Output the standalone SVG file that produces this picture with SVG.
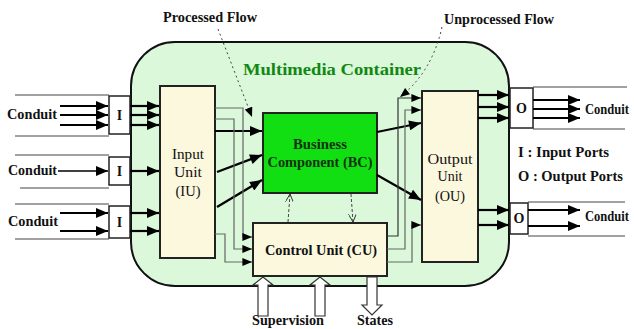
<svg xmlns="http://www.w3.org/2000/svg" width="634" height="329" viewBox="0 0 634 329">
<defs>
<marker id="a" viewBox="0 0 12 10" refX="12" refY="5" markerWidth="13" markerHeight="10" markerUnits="userSpaceOnUse" orient="auto"><path d="M0,0 L12,5 L0,10 z" fill="#000"/></marker>
<marker id="s" viewBox="0 0 12 10" refX="12" refY="5" markerWidth="10" markerHeight="8" markerUnits="userSpaceOnUse" orient="auto"><path d="M0,0 L12,5 L0,10 z" fill="#000"/></marker>
<marker id="o" viewBox="0 0 10 10" refX="10" refY="5" markerWidth="8" markerHeight="8" markerUnits="userSpaceOnUse" orient="auto"><path d="M0,0 L10,5 L0,10" fill="none" stroke="#333" stroke-width="1.2"/></marker>
</defs>
<style>
text{font-family:"Liberation Serif","Times New Roman",serif;fill:#111}
.b{font-weight:bold}
.box{stroke:#222;stroke-width:2}
.cream{fill:#fbf8de}
.port{fill:#fff;stroke:#222;stroke-width:1.5}
.thick{stroke:#000;stroke-width:2.2;fill:none}
.thin{stroke:#666;stroke-width:1.2;fill:none}
.edge{stroke:#444;stroke-width:1;fill:none}
.blk{fill:#fff;stroke:#333;stroke-width:1.2}
</style>
<rect width="634" height="329" fill="#fff"/>

<g id="container">
<rect x="131" y="42" width="378" height="244" rx="44" ry="44" fill="#dbf8da" stroke="#111" stroke-width="2"/>
<text x="243" y="75" class="b" font-size="17" style="fill:#118811" textLength="178" lengthAdjust="spacingAndGlyphs">Multimedia Container</text>
</g>

<g id="labels">
<text x="163" y="22" class="b" font-size="14" textLength="94" lengthAdjust="spacingAndGlyphs">Processed Flow</text>
<text x="444" y="24" class="b" font-size="14" textLength="110" lengthAdjust="spacingAndGlyphs">Unprocessed Flow</text>
<text x="518" y="157" class="b" font-size="14" textLength="91" lengthAdjust="spacingAndGlyphs">I : Input Ports</text>
<text x="518" y="181" class="b" font-size="14" textLength="105" lengthAdjust="spacingAndGlyphs">O : Output Ports</text>
<text x="252" y="325" class="b" font-size="14" textLength="72" lengthAdjust="spacingAndGlyphs">Supervision</text>
<text x="357" y="325" class="b" font-size="14" textLength="36" lengthAdjust="spacingAndGlyphs">States</text>
</g>

<g id="conduit-in">
<path class="edge" d="M15,95 H109 M15,136 H109 M15,155 H109 M20,188 H109 M15,204 H109 M15,239 H109"/>
<text x="7" y="119" class="b" font-size="15" textLength="50" lengthAdjust="spacingAndGlyphs">Conduit</text>
<text x="8" y="175" class="b" font-size="15" textLength="49" lengthAdjust="spacingAndGlyphs">Conduit</text>
<text x="8" y="226" class="b" font-size="15" textLength="50" lengthAdjust="spacingAndGlyphs">Conduit</text>
</g>
<g id="conduit-out">
<path class="edge" d="M533,87 H627 M533,129 H625 M528,202 H625 M528,236 H625"/>
<text x="585" y="114" class="b" font-size="14" textLength="44" lengthAdjust="spacingAndGlyphs">Conduit</text>
<text x="585" y="221" class="b" font-size="14" textLength="44" lengthAdjust="spacingAndGlyphs">Conduit</text>
</g>

<g id="port-i1"><rect class="port" x="109" y="96" width="21" height="38"/><text x="119.5" y="120" class="b" font-size="14" text-anchor="middle">I</text></g>
<g id="port-i2"><rect class="port" x="109" y="157" width="21" height="28"/><text x="119.5" y="176" class="b" font-size="14" text-anchor="middle">I</text></g>
<g id="port-i3"><rect class="port" x="109" y="206" width="21" height="32"/><text x="119.5" y="227" class="b" font-size="14" text-anchor="middle">I</text></g>
<g id="port-o1"><rect class="port" x="510" y="88" width="23" height="40"/><text x="521.5" y="113" class="b" font-size="14" text-anchor="middle">O</text></g>
<g id="port-o2"><rect class="port" x="510" y="203" width="18" height="31"/><text x="519" y="223" class="b" font-size="14" text-anchor="middle">O</text></g>

<g id="input-unit">
<rect class="box cream" x="160" y="86" width="55" height="172"/>
<text x="188" y="159" font-size="15" text-anchor="middle" textLength="32" lengthAdjust="spacingAndGlyphs">Input</text>
<text x="188" y="177" font-size="15" text-anchor="middle" textLength="28" lengthAdjust="spacingAndGlyphs">Unit</text>
<text x="188" y="196" font-size="15" text-anchor="middle" textLength="25" lengthAdjust="spacingAndGlyphs">(IU)</text>
</g>

<g id="business-component">
<rect class="box" x="263" y="113" width="114" height="80" fill="#12df12"/>
<text x="320" y="149" class="b" font-size="15" text-anchor="middle" textLength="54" lengthAdjust="spacingAndGlyphs" style="fill:#113311">Business</text>
<text x="320" y="167" class="b" font-size="15" text-anchor="middle" textLength="105" lengthAdjust="spacingAndGlyphs" style="fill:#113311">Component (BC)</text>
</g>

<g id="control-unit">
<rect class="box cream" x="253" y="223" width="134" height="53"/>
<text x="321" y="255" class="b" font-size="15" text-anchor="middle" textLength="112" lengthAdjust="spacingAndGlyphs">Control Unit (CU)</text>
</g>

<g id="output-unit">
<rect class="box cream" x="422" y="91" width="56" height="171"/>
<text x="450" y="164" font-size="15" text-anchor="middle" textLength="45" lengthAdjust="spacingAndGlyphs">Output</text>
<text x="450" y="181" font-size="15" text-anchor="middle" textLength="25" lengthAdjust="spacingAndGlyphs">Unit</text>
<text x="450" y="201" font-size="15" text-anchor="middle" textLength="30" lengthAdjust="spacingAndGlyphs">(OU)</text>
</g>

<g id="connectors">
<path class="thick" marker-end="url(#a)" d="M60,106 H108"/>
<path class="thick" marker-end="url(#a)" d="M60,115 H108"/>
<path class="thick" marker-end="url(#a)" d="M60,125 H108"/>
<path class="edge" style="stroke:#000;stroke-width:1.4" marker-end="url(#a)" d="M58,171 H108"/>
<path class="thick" marker-end="url(#a)" d="M60,213 H108"/>
<path class="thick" marker-end="url(#a)" d="M60,231 H108"/>
<path class="thick" marker-end="url(#a)" d="M130,106 H159"/>
<path class="thick" marker-end="url(#a)" d="M130,115 H159"/>
<path class="thick" marker-end="url(#a)" d="M130,125 H159"/>
<path class="thick" marker-end="url(#a)" d="M130,171 H159"/>
<path class="thick" marker-end="url(#a)" d="M130,213 H159"/>
<path class="thick" marker-end="url(#a)" d="M130,231 H159"/>
<path class="thick" marker-end="url(#a)" d="M215,131 H262"/>
<path class="thick" marker-end="url(#a)" d="M217,172 L262,155"/>
<path class="thick" marker-end="url(#a)" d="M217,207 L262,180"/>
<path class="thin" marker-end="url(#s)" d="M215,108 H243 V237 H252"/>
<path class="thin" marker-end="url(#s)" d="M215,119 H234 V249 H252"/>
<path class="thin" marker-end="url(#s)" d="M215,234 H225 V262 H252"/>
<path class="edge" stroke-dasharray="3,2" marker-end="url(#o)" d="M288,222 L290,194"/>
<path class="edge" stroke-dasharray="3,2" marker-end="url(#o)" d="M351,194 L353,222"/>
<path class="thick" marker-end="url(#a)" d="M377,132 L421,123"/>
<path class="thick" marker-end="url(#a)" d="M377,175 L421,200"/>
<path class="thin" style="stroke:#333" marker-end="url(#s)" d="M387,236 H398 V98 H421"/>
<path class="thin" marker-end="url(#s)" d="M387,249 H405 V110 H421"/>
<path class="thin" marker-end="url(#s)" d="M387,262 H412 V225 H421"/>
<path class="thick" marker-end="url(#a)" d="M478,95 H509"/>
<path class="thick" marker-end="url(#a)" d="M478,107 H509"/>
<path class="thick" marker-end="url(#a)" d="M478,118 H509"/>
<path class="thick" marker-end="url(#a)" d="M478,210 H509"/>
<path class="thick" marker-end="url(#a)" d="M478,225 H509"/>
<path class="thick" marker-end="url(#a)" d="M533,100 H580"/>
<path class="thick" marker-end="url(#a)" d="M533,109 H580"/>
<path class="thick" marker-end="url(#a)" d="M533,118 H580"/>
<path class="thick" marker-end="url(#a)" d="M528,210 H580"/>
<path class="thick" marker-end="url(#a)" d="M528,226 H580"/>
<path class="edge" stroke-dasharray="2,3" marker-end="url(#s)" d="M218,29 L252,117"/>
<path class="edge" stroke-dasharray="2,3" marker-end="url(#s)" d="M442,27 Q432,72 400,97"/>
<path class="blk" d="M258,316 V285 H253 L263,277 L273,285 H268 V316 Z"/>
<path class="blk" d="M315,316 V285 H310 L320,277 L330,285 H325 V316 Z"/>
<path class="blk" d="M367,277 V305 H362 L372,315 L382,305 H377 V277 Z"/>
</g>
</svg>
